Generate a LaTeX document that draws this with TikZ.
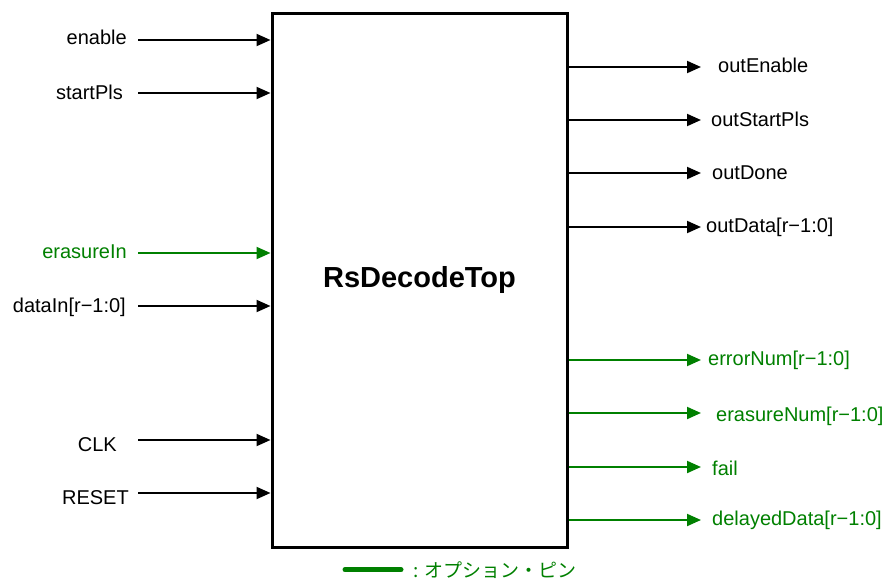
\documentclass[tikz,border=0pt]{standalone}
\usepackage{fontspec}
\setmainfont{Liberation Sans}
\newfontfamily\jpfont{Noto Sans CJK JP}
\usepackage{tikz}
\usetikzlibrary{arrows.meta, positioning, calc}
\definecolor{OptGreen}{HTML}{008000}

\begin{document}
\begin{tikzpicture}[x=1pt, y=-1pt, >={Triangle[length=14pt, width=12pt]},
    pin/.style={->, line width=2pt},
    lbl/.style={inner sep=0pt, font=\fontsize{20}{24}\selectfont},
    opt/.style={OptGreen}]
  \useasboundingbox (0,0) rectangle (892,581);
  % --- Block ---
  \node[draw, line width=3pt, minimum width=295pt, minimum height=534pt, inner sep=0pt,
        font=\fontsize{29}{34}\selectfont\bfseries] (top) at (419.5,280) {RsDecodeTop};
  % --- Inputs ---
  \coordinate (enable-in) at (138,40);
  \coordinate (startpls-in) at (138,93);
  \coordinate (erasurein-in) at (138,253);
  \coordinate (datain-in) at (138,306);
  \coordinate (clk-in) at (138,440);
  \coordinate (reset-in) at (138,493);
  \node[lbl, anchor=base east] (enable) at (127,44) {enable};
  \node[lbl, anchor=base east] (startpls) at (123,99) {startPls};
  \node[lbl, anchor=base east, opt] (erasurein) at (127,258) {erasureIn};
  \node[lbl, anchor=base east] (datain) at (126,312) {dataIn[r−1:0]};
  \node[lbl, anchor=base east] (clk) at (117,451) {CLK};
  \node[lbl, anchor=base east] (reset) at (129,504) {RESET};
  \draw[pin] (enable-in) -- (enable-in -| top.west);
  \draw[pin] (startpls-in) -- (startpls-in -| top.west);
  \draw[pin, opt] (erasurein-in) -- (erasurein-in -| top.west);
  \draw[pin] (datain-in) -- (datain-in -| top.west);
  \draw[pin] (clk-in) -- (clk-in -| top.west);
  \draw[pin] (reset-in) -- (reset-in -| top.west);
  % --- Outputs ---
  \coordinate (outenable-out) at (701,67);
  \coordinate (outstartpls-out) at (701,120);
  \coordinate (outdone-out) at (701,173);
  \coordinate (outdata-out) at (701,227);
  \coordinate (errornum-out) at (701,360);
  \coordinate (erasurenum-out) at (701,413);
  \coordinate (fail-out) at (701,467);
  \coordinate (delayeddata-out) at (701,520);
  \node[lbl, anchor=base west] (outenable) at (718,72) {outEnable};
  \node[lbl, anchor=base west] (outstartpls) at (711,126) {outStartPls};
  \node[lbl, anchor=base west] (outdone) at (712,179) {outDone};
  \node[lbl, anchor=base west] (outdata) at (706,232) {outData[r−1:0]};
  \node[lbl, anchor=base west, opt] (errornum) at (708,365) {errorNum[r−1:0]};
  \node[lbl, anchor=base west, opt] (erasurenum) at (716,421) {erasureNum[r−1:0]};
  \node[lbl, anchor=base west, opt] (fail) at (712,475) {fail};
  \node[lbl, anchor=base west, opt] (delayeddata) at (712,525) {delayedData[r−1:0]};
  \draw[pin] (outenable-out -| top.east) -- (outenable-out);
  \draw[pin] (outstartpls-out -| top.east) -- (outstartpls-out);
  \draw[pin] (outdone-out -| top.east) -- (outdone-out);
  \draw[pin] (outdata-out -| top.east) -- (outdata-out);
  \draw[pin, opt] (errornum-out -| top.east) -- (errornum-out);
  \draw[pin, opt] (erasurenum-out -| top.east) -- (erasurenum-out);
  \draw[pin, opt] (fail-out -| top.east) -- (fail-out);
  \draw[pin, opt] (delayeddata-out -| top.east) -- (delayeddata-out);
  % --- Legend ---
  \node[lbl, anchor=base west, opt, font=\fontsize{19}{23}\jpfont] (legend) at (413,577) {: オプション・ピン};
  \draw[OptGreen, line width=5pt, line cap=round] ([xshift=-12pt]legend.west) -- ++(-56pt,0);
\end{tikzpicture}
\end{document}
